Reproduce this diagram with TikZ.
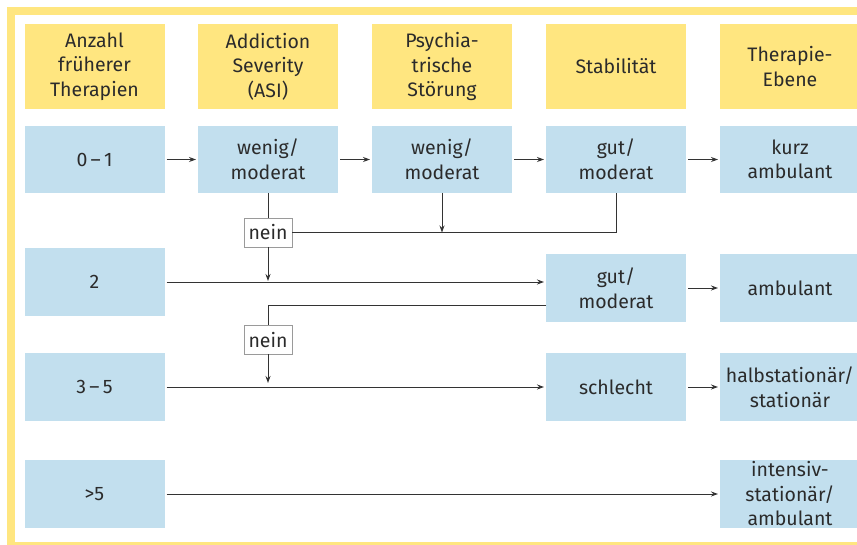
\documentclass[tikz,border=0pt]{standalone}
\usepackage{fontspec}
\setmainfont{Fira Sans}
\usetikzlibrary{arrows.meta,calc}
\definecolor{hdr}{HTML}{FFE680}
\definecolor{frm}{HTML}{FFE680}
\definecolor{cell}{HTML}{C2DFEE}
\definecolor{ink}{HTML}{2B2B2B}
\definecolor{ln}{HTML}{333333}
\definecolor{nb}{HTML}{9A9A9A}
\tikzset{
  base/.style={inner sep=0pt, outer sep=0pt, align=center, text=ink,
    font=\fontsize{19.5}{24.5}\selectfont, minimum width=140pt},
  hbox/.style={base, fill=hdr, minimum height=85pt},
  cbox/.style={base, fill=cell, minimum height=68pt},
  neinbox/.style={draw=nb, fill=white, line width=0.8pt, inner sep=0pt,
    outer sep=0pt, minimum width=48pt, minimum height=29pt, text=ink,
    font=\fontsize{19.5}{24.5}\selectfont},
  conn/.style={draw=ln, line width=0.9pt},
  arr/.style={conn, -{Stealth[length=7pt,width=5pt]}, shorten >=2pt, shorten <=2pt},
  arrv/.style={conn, -{Stealth[length=7pt,width=5pt]}}
}
\begin{document}
\begin{tikzpicture}[x=1pt,y=-1pt]
\useasboundingbox (0,0) rectangle (857,545);
\fill[frm] (7,7) rectangle (857,545);
\fill[white] (15,15) rectangle (857,542);
% headers
\node[hbox] (h1) at (94.5,66.5) {Anzahl\\früherer\\Therapien};
\node[hbox] (h2) at (268,66.5) {Addiction\\Severity\\(ASI)};
\node[hbox] (h3) at (442,66.5) {Psychia-\\trische\\Störung};
\node[hbox] (h4) at (616,66.5) {Stabilität};
\node[hbox] (h5) at (790,66.5) {Therapie-\\Ebene};
% row 1
\node[cbox, minimum height=67pt] (r1c1) at (94.5,159.5) {0\,–\,1};
\node[cbox, minimum height=67pt] (r1c2) at (268,159.5) {wenig/\\moderat};
\node[cbox, minimum height=67pt] (r1c3) at (442,159.5) {wenig/\\moderat};
\node[cbox, minimum height=67pt] (r1c4) at (616,159.5) {gut/\\moderat};
\node[cbox, minimum height=67pt] (r1c5) at (790,159.5) {kurz\\ambulant};
% row 2
\node[cbox] (r2c1) at (94.5,282) {2};
\node[cbox] (r2c4) at (616,288) {gut/\\moderat};
\node[cbox] (r2c5) at (790,288) {ambulant};
% row 3
\node[cbox] (r3c1) at (94.5,387) {3\,–\,5};
\node[cbox] (r3c4) at (616,387) {schlecht};
\node[cbox] (r3c5) at (790,387) {halbstationär/\\stationär};
% row 4
\node[cbox] (r4c1) at (94.5,494) {>5};
\node[cbox] (r4c5) at (790,494) {intensiv-\\stationär/\\ambulant};
% nein boxes
\node[neinbox] (n1) at (268,232.5) {nein};
\node[neinbox] (n2) at (268,340) {nein};
% row 1 arrows
\draw[arr] (r1c1) -- (r1c2);
\draw[arr] (r1c2) -- (r1c3);
\draw[arr] (r1c3) -- (r1c4);
\draw[arr] (r1c4) -- (r1c5);
% branch 1
\draw[conn] (r1c2.south) -- (n1.north);
\draw[conn] (n1.east) -| (r1c4.south);
\draw[arrv] (r1c3.south) -- (r1c3.south |- n1.east);
\draw[arrv, shorten >=1pt] (n1.south) -- (n1.south |- r2c1.east);
% row 2
\draw[arr] (r2c1.east) -- (r2c1.east -| r2c4.west);
\draw[arr] (r2c4) -- (r2c5);
% branch 2
\draw[conn] ([yshift=-17pt]r2c4.west) -| (n2.north);
\draw[arrv, shorten >=4pt] (n2.south) -- (n2.south |- r3c1.east);
% row 3
\draw[arr] (r3c1) -- (r3c4);
\draw[arr] (r3c4) -- (r3c5);
% row 4
\draw[arr] (r4c1) -- (r4c5);
\end{tikzpicture}
\end{document}
